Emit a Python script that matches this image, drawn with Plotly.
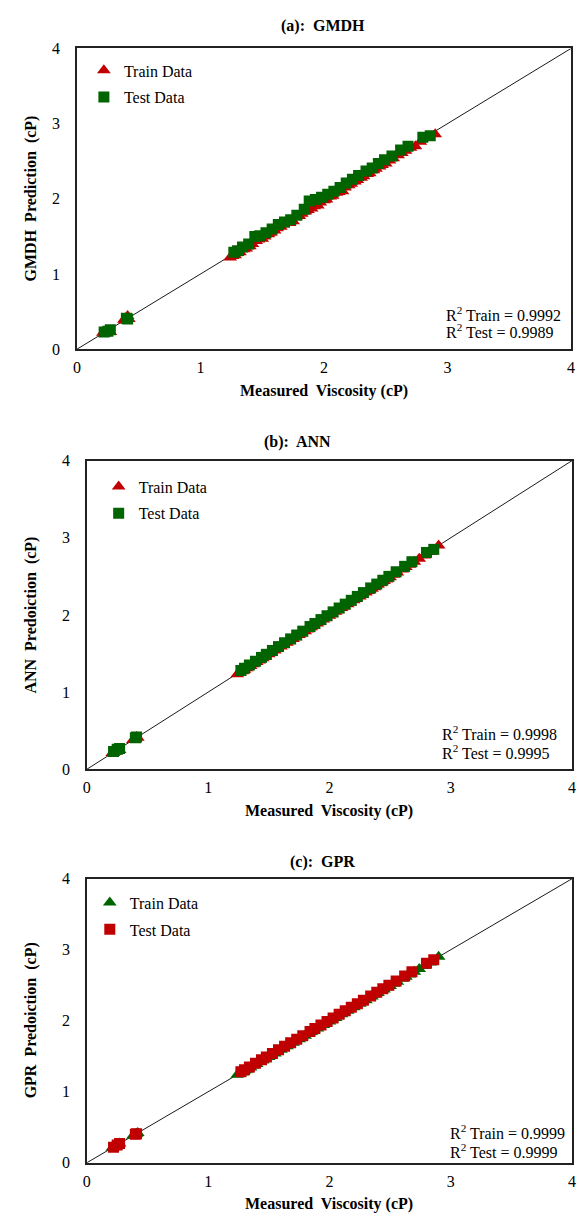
import plotly.graph_objects as go

# ---- data -------------------------------------------------------------
train_measured = [0.21, 0.22, 0.23, 0.24, 0.25, 0.26, 0.27, 0.38, 0.39, 0.40, 0.41, 0.42,
                  1.24, 1.26, 1.28, 1.30, 1.32, 1.35, 1.37, 1.40, 1.42, 1.45, 1.47, 1.50,
                  1.52, 1.55, 1.57, 1.60, 1.62, 1.65, 1.67, 1.70, 1.72, 1.75, 1.77, 1.80,
                  1.82, 1.85, 1.87, 1.90, 1.92, 1.95, 1.97, 2.00, 2.02, 2.05, 2.07, 2.10,
                  2.12, 2.15, 2.17, 2.20, 2.22, 2.25, 2.27, 2.30, 2.32, 2.35, 2.37, 2.40,
                  2.42, 2.45, 2.47, 2.50, 2.53, 2.56, 2.60, 2.63, 2.66, 2.70, 2.74, 2.78,
                  2.83, 2.90]
test_measured = [0.22, 0.25, 0.27, 0.40, 0.41, 1.27, 1.30, 1.34, 1.39, 1.44, 1.48, 1.53,
                 1.58, 1.63, 1.68, 1.73, 1.78, 1.84, 1.88, 1.93, 1.98, 2.03, 2.08, 2.13,
                 2.18, 2.23, 2.28, 2.34, 2.39, 2.44, 2.49, 2.55, 2.62, 2.68, 2.80, 2.86]

gmdh_train = [0.22, 0.21, 0.22, 0.23, 0.25, 0.24, 0.23, 0.39, 0.38, 0.42, 0.44, 0.40,
              1.22, 1.24, 1.25, 1.28, 1.29, 1.33, 1.34, 1.37, 1.40, 1.44, 1.46, 1.47,
              1.50, 1.53, 1.55, 1.58, 1.61, 1.63, 1.66, 1.69, 1.68, 1.70, 1.76, 1.77,
              1.80, 1.83, 1.85, 1.87, 1.90, 1.91, 1.95, 1.98, 1.99, 2.03, 2.04, 2.08,
              2.09, 2.10, 2.15, 2.18, 2.20, 2.23, 2.25, 2.28, 2.30, 2.33, 2.34, 2.38,
              2.40, 2.43, 2.45, 2.47, 2.51, 2.54, 2.58, 2.61, 2.64, 2.68, 2.70, 2.76,
              2.81, 2.86]
gmdh_test = [0.23, 0.24, 0.26, 0.41, 0.40, 1.29, 1.31, 1.36, 1.40, 1.50, 1.51, 1.55,
             1.60, 1.66, 1.69, 1.72, 1.78, 1.86, 1.97, 1.99, 2.02, 2.06, 2.10, 2.15,
             2.21, 2.26, 2.31, 2.37, 2.41, 2.47, 2.52, 2.57, 2.65, 2.70, 2.82, 2.84]

ann_train = [0.21, 0.21, 0.23, 0.23, 0.25, 0.25, 0.25, 0.38, 0.38, 0.40, 0.42, 0.41,
             1.23, 1.25, 1.27, 1.29, 1.31, 1.34, 1.36, 1.39, 1.41, 1.44, 1.46, 1.49,
             1.51, 1.54, 1.56, 1.59, 1.61, 1.64, 1.66, 1.69, 1.71, 1.74, 1.76, 1.79,
             1.81, 1.84, 1.86, 1.89, 1.91, 1.94, 1.96, 1.99, 2.01, 2.04, 2.06, 2.09,
             2.11, 2.14, 2.16, 2.19, 2.21, 2.24, 2.26, 2.29, 2.31, 2.34, 2.36, 2.39,
             2.41, 2.44, 2.46, 2.49, 2.52, 2.55, 2.59, 2.62, 2.65, 2.69, 2.73, 2.77,
             2.82, 2.90]
ann_test = [0.23, 0.26, 0.27, 0.41, 0.42, 1.28, 1.31, 1.35, 1.40, 1.45, 1.49, 1.54,
            1.59, 1.64, 1.69, 1.74, 1.79, 1.85, 1.89, 1.94, 1.99, 2.04, 2.09, 2.14,
            2.19, 2.24, 2.29, 2.35, 2.40, 2.45, 2.50, 2.56, 2.63, 2.69, 2.81, 2.85]

gpr_train = [0.21, 0.22, 0.23, 0.24, 0.25, 0.26, 0.27, 0.38, 0.39, 0.40, 0.41, 0.42,
             1.24, 1.25, 1.27, 1.30, 1.31, 1.34, 1.37, 1.39, 1.42, 1.44, 1.47, 1.49,
             1.52, 1.54, 1.57, 1.59, 1.62, 1.64, 1.67, 1.69, 1.72, 1.74, 1.77, 1.79,
             1.82, 1.84, 1.87, 1.89, 1.92, 1.94, 1.97, 1.99, 2.02, 2.04, 2.07, 2.09,
             2.12, 2.14, 2.17, 2.19, 2.22, 2.24, 2.27, 2.29, 2.32, 2.34, 2.37, 2.39,
             2.42, 2.44, 2.47, 2.49, 2.52, 2.55, 2.59, 2.62, 2.65, 2.69, 2.73, 2.77,
             2.82, 2.90]
gpr_test = [0.22, 0.25, 0.27, 0.40, 0.41, 1.28, 1.31, 1.35, 1.40, 1.45, 1.49, 1.54,
            1.59, 1.64, 1.69, 1.74, 1.79, 1.85, 1.89, 1.94, 1.99, 2.04, 2.09, 2.14,
            2.19, 2.24, 2.29, 2.35, 2.40, 2.45, 2.50, 2.56, 2.63, 2.69, 2.81, 2.86]

panel_titles = ["(a):\u00a0 GMDH", "(b):\u00a0 ANN", "(c):\u00a0 GPR"]
y_titles = ["GMDH\u00a0 Prediction\u00a0 (cP)", "ANN\u00a0 Predoiction\u00a0 (cP)",
            "GPR\u00a0 Predoiction\u00a0 (cP)"]
x_title = "Measured\u00a0 Viscosity (cP)"
r2_train = ["0.9992", "0.9998", "0.9999"]
r2_test = ["0.9989", "0.9995", "0.9999"]
axis_ticks = [0, 1, 2, 3, 4]
diag = [0, 4]

RED = "#C00000"
GREEN = "#006400"
train_colors = [RED, RED, GREEN]
test_colors = [GREEN, GREEN, RED]
preds = [(gmdh_train, gmdh_test), (ann_train, ann_test), (gpr_train, gpr_test)]

# ---- layout geometry (pixels) ----------------------------------------
W, H = 579, 1225
FONT = "Times New Roman, Liberation Serif, Times, serif"
# plot boxes: left, right, top, bottom
boxes = [(74, 575, 41, 346), (84, 576, 459, 772), (84, 576, 883, 1171)]
title_pos = [(323, 18), (298, 440), (323, 866)]
legend_pos = [(81, 46), (96, 468), (87, 890)]
r2_pos = [(446, 310, 328), (442, 735, 754), (450, 1140, 1159)]


def px(x):
    return x / W


def py(y):
    return 1 - y / H


fig = go.Figure()
annotations = []
layout_axes = {}
txt = dict(family=FONT, size=16, color="#000")

for i in range(3):
    sfx = "" if i == 0 else str(i + 1)
    xa, ya = "x" + sfx, "y" + sfx
    leg = "legend" + sfx
    tr, te = preds[i]

    fig.add_trace(go.Scatter(x=diag, y=diag, mode="lines", xaxis=xa, yaxis=ya,
                             line=dict(color="#1a1a1a", width=1), showlegend=False,
                             hoverinfo="skip"))
    fig.add_trace(go.Scatter(x=train_measured, y=tr, mode="markers", name="Train Data",
                             xaxis=xa, yaxis=ya, legend=leg, legendgroup="tr" + sfx,
                             marker=dict(symbol="triangle-up", size=12,
                                         color=train_colors[i], line=dict(width=0))))
    fig.add_trace(go.Scatter(x=test_measured, y=te, mode="markers", name="Test Data",
                             xaxis=xa, yaxis=ya, legend=leg, legendgroup="te" + sfx,
                             marker=dict(symbol="square", size=11,
                                         color=test_colors[i], line=dict(width=0))))

    l, r, t, b = boxes[i]
    axis_common = dict(range=[0, 4], tickvals=axis_ticks, ticks="", showgrid=False,
                       zeroline=False, showline=True, linecolor="#222", linewidth=1.5,
                       mirror=True, ticklabeloverflow="allow",
                       tickfont=dict(family=FONT, size=16, color="#000"))
    layout_axes["xaxis" + sfx] = dict(domain=[px(l), px(r)], anchor=ya,
                                      ticklabelstandoff=3, **axis_common)
    layout_axes["yaxis" + sfx] = dict(domain=[py(b), py(t)], anchor=xa,
                                      ticklabelstandoff=12, **axis_common)

    lx, ly = legend_pos[i]
    layout_axes[leg] = dict(x=px(lx), y=py(ly), xanchor="left", yanchor="top",
                            bgcolor="rgba(0,0,0,0)", borderwidth=0, font=txt,
                            itemwidth=30, tracegroupgap=3, traceorder="grouped")

    tx, ty = title_pos[i]
    annotations.append(dict(x=px(tx), y=py(ty), xref="paper", yref="paper",
                            text="<b>" + panel_titles[i] + "</b>", showarrow=False,
                            xanchor="center", yanchor="middle", font=txt))
    annotations.append(dict(x=px(27), y=py((t + b) / 2), xref="paper", yref="paper",
                            text="<b>" + y_titles[i] + "</b>", showarrow=False,
                            textangle=-90, xanchor="center", yanchor="middle", font=txt))
    annotations.append(dict(x=px((l + r) / 2), y=py(b + 42), xref="paper", yref="paper",
                            text="<b>" + x_title + "</b>", showarrow=False,
                            xanchor="center", yanchor="middle", font=txt))
    rx, ry1, ry2 = r2_pos[i]
    annotations.append(dict(x=px(rx), y=py(ry1), xref="paper", yref="paper",
                            text="R<sup>2</sup> Train = " + r2_train[i], showarrow=False,
                            xanchor="left", yanchor="middle", font=txt))
    annotations.append(dict(x=px(rx), y=py(ry2), xref="paper", yref="paper",
                            text="R<sup>2</sup> Test = " + r2_test[i], showarrow=False,
                            xanchor="left", yanchor="middle", font=txt))

fig.update_layout(width=W, height=H, margin=dict(l=0, r=0, t=0, b=0),
                  font=dict(family=FONT, color="#000"),
                  paper_bgcolor="white", plot_bgcolor="white",
                  annotations=annotations, **layout_axes)

fig.write_html("out.html", include_plotlyjs=True, full_html=True,
               config={"displayModeBar": False})
